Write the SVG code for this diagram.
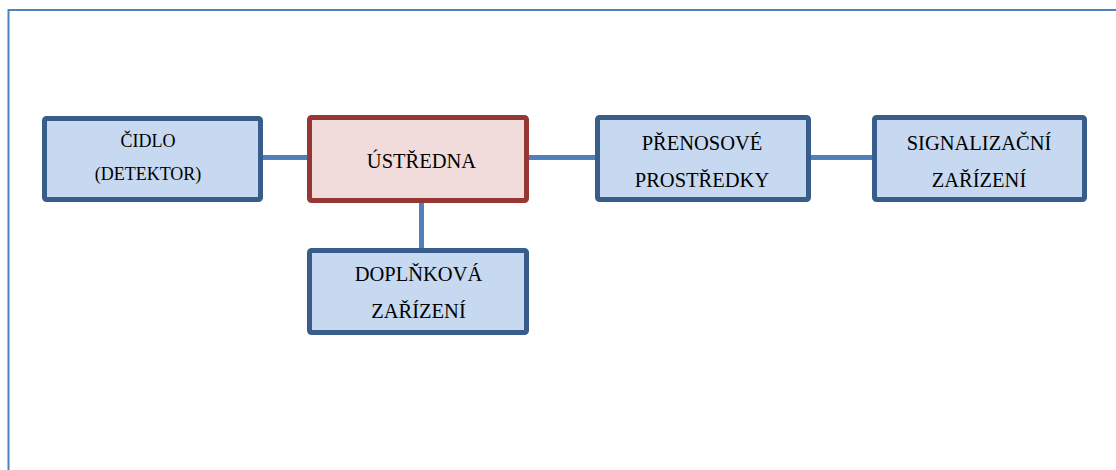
<svg xmlns="http://www.w3.org/2000/svg" width="1116" height="470" viewBox="0 0 1116 470">
  <style>
    .frame { fill: none; stroke: #4f81bd; stroke-width: 2; }
    .link { stroke: #4f81bd; stroke-width: 5; fill: none; }
    .blue { fill: #c6d9f1; stroke: #385d8a; stroke-width: 5; }
    .red { fill: #f2dcdb; stroke: #953735; stroke-width: 5; }
    text { font-size: 20.5px; fill: #000; text-anchor: middle; }
    .small { font-size: 18px; }
  </style>
  <rect width="1116" height="470" fill="#fff"/>
  <!-- outer frame, running off the right and bottom edges -->
  <rect class="frame" x="8.5" y="10" width="1200" height="600"/>

  <g id="connectors">
    <line class="link" x1="263" y1="157.5" x2="307" y2="157.5"/>
    <line class="link" x1="529" y1="157.5" x2="595" y2="157.5"/>
    <line class="link" x1="811" y1="157.5" x2="872" y2="157.5"/>
    <line class="link" x1="421.5" y1="203" x2="421.5" y2="248"/>
  </g>

  <g font-family="'Liberation Serif', 'Times New Roman', Times, serif">
    <g id="cidlo">
      <rect class="blue" x="44.5" y="118.5" width="216" height="81" rx="2"/>
      <text class="small" x="148" y="147">ČIDLO</text>
      <text class="small" x="148" y="180">(DETEKTOR)</text>
    </g>

    <g id="ustredna">
      <rect class="red" x="309.5" y="117.5" width="217" height="83" rx="2"/>
      <text x="421.5" y="168">ÚSTŘEDNA</text>
    </g>

    <g id="prenosove">
      <rect class="blue" x="597.5" y="117.5" width="211" height="82" rx="2"/>
      <text x="702" y="150">PŘENOSOVÉ</text>
      <text x="702" y="187">PROSTŘEDKY</text>
    </g>

    <g id="signalizacni">
      <rect class="blue" x="874.5" y="117.5" width="210" height="82" rx="2"/>
      <text x="979" y="150">SIGNALIZAČNÍ</text>
      <text x="979" y="187">ZAŘÍZENÍ</text>
    </g>

    <g id="doplnkova">
      <rect class="blue" x="309.5" y="250.5" width="217" height="82" rx="2"/>
      <text x="418.5" y="281">DOPLŇKOVÁ</text>
      <text x="418.5" y="318">ZAŘÍZENÍ</text>
    </g>
  </g>
</svg>
